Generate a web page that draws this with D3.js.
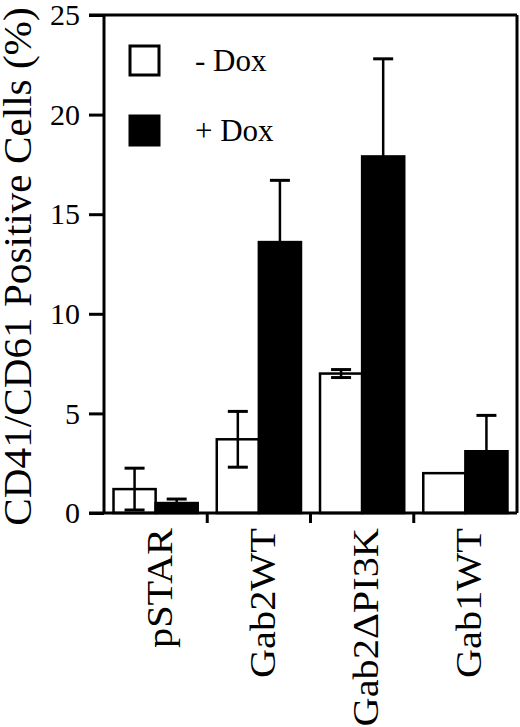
<!DOCTYPE html>
<html><head><meta charset="utf-8"><script src="https://cdn.jsdelivr.net/npm/d3@7/dist/d3.min.js"></script></head>
<body style="margin:0">
<svg id="chart" width="520" height="727"></svg>
<script>
// ---- data ----
const categories = ["pSTAR", "Gab2WT", "Gab2\u0394PI3K", "Gab1WT"];
const seriesNames = ["- Dox", "+ Dox"];
const minusDox = [1.2, 3.7, 7.0, 2.0];
const minusDoxErr = [1.05, 1.4, 0.2, 0];
const plusDox = [0.5, 13.6, 17.9, 3.1];
const plusDoxErr = [0.2, 3.1, 4.9, 1.8];
const yTicks = [0, 5, 10, 15, 20, 25];
const yLabel = "CD41/CD61 Positive Cells (%)";

// ---- layout ----
const W = 520, H = 727;
const m = { left: 104, right: 3, top: 15, bottom: 214 };
const SERIF = "Liberation Serif";
const svg = d3.select("#chart").style("font-family", `'${SERIF}'`);

const x = d3.scaleBand().domain(categories).range([m.left, W - m.right]).padding(0);
const xs = d3.scaleBand().domain(seriesNames).range([0, x.bandwidth()])
  .paddingInner(0).paddingOuter(0.226);
const y = d3.scaleLinear().domain([0, 25]).range([H - m.bottom, m.top]);

const fills = { "- Dox": "#fff", "+ Dox": "#000" };
const vals = { "- Dox": minusDox, "+ Dox": plusDox };
const errs = { "- Dox": minusDoxErr, "+ Dox": plusDoxErr };

const rows = [];
seriesNames.forEach(s => categories.forEach((c, i) => {
  rows.push({ s, c, v: vals[s][i], e: errs[s][i] });
}));

// bars
svg.append("g").selectAll("rect").data(rows).join("rect")
  .attr("x", d => x(d.c) + xs(d.s))
  .attr("y", d => y(d.v))
  .attr("width", xs.bandwidth())
  .attr("height", d => y(0) - y(d.v))
  .attr("fill", d => fills[d.s])
  .attr("stroke", "#000")
  .attr("stroke-width", 2.5);

// error bars
const eg = svg.append("g").attr("stroke", "#000").attr("fill", "none");
rows.filter(d => d.e > 0).forEach(d => {
  const cx = x(d.c) + xs(d.s) + xs.bandwidth() / 2;
  const capW = 10;
  eg.append("line").attr("x1", cx).attr("x2", cx)
    .attr("y1", y(d.v + d.e)).attr("y2", y(Math.max(0, d.v - d.e)))
    .attr("stroke-width", 2.5);
  [d.v + d.e, Math.max(0, d.v - d.e)].forEach(v => {
    eg.append("line").attr("x1", cx - capW).attr("x2", cx + capW)
      .attr("y1", y(v)).attr("y2", y(v)).attr("stroke-width", 3);
  });
});

// y axis ticks and labels
const yAxis = d3.axisLeft(y).tickValues(yTicks).tickSize(15).tickPadding(9).tickFormat(d3.format("d"));
const ga = svg.append("g").attr("transform", `translate(${m.left},0)`).call(yAxis);
ga.select(".domain").remove();
ga.attr("font-family", null).attr("font-size", 30);
ga.selectAll(".tick line").attr("stroke", "#000").attr("stroke-width", 3);
ga.selectAll(".tick text").attr("fill", "#000");

// frame
const fr = svg.append("g").attr("stroke", "#000").attr("stroke-width", 3).attr("fill", "none");
fr.append("line").attr("x1", m.left).attr("x2", m.left).attr("y1", y(25)).attr("y2", y(0));
fr.append("line").attr("x1", W - m.right).attr("x2", W - m.right).attr("y1", y(25)).attr("y2", y(0));
fr.append("line").attr("x1", m.left - 15).attr("x2", W - m.right).attr("y1", y(25)).attr("y2", y(25));
fr.append("line").attr("x1", m.left - 15).attr("x2", W - m.right).attr("y1", y(0)).attr("y2", y(0));

// category boundary ticks
categories.slice(1).forEach(c => {
  fr.append("line").attr("x1", x(c)).attr("x2", x(c)).attr("y1", y(0)).attr("y2", y(0) + 10);
});

// category labels
svg.append("g").selectAll("text").data(categories).join("text")
  .attr("transform", d => `translate(${x(d) + x.bandwidth() / 2 + 16},${y(0) + 15}) rotate(-90) scale(1.12,1)`)
  .attr("text-anchor", "end")
  .attr("font-size", 36)
  .text(d => d);

// y label
svg.append("text")
  .attr("transform", `translate(31,${(y(0) + 15 + 5) / 2}) rotate(-90) scale(1.03,1)`)
  .attr("text-anchor", "middle")
  .attr("font-size", 40)
  .text(yLabel);

// legend
const lg = svg.append("g");
seriesNames.forEach((s, i) => {
  const ly = 46 + i * 70;
  lg.append("rect").attr("x", 130).attr("y", ly).attr("width", 29).attr("height", 29)
    .attr("fill", fills[s]).attr("stroke", "#000").attr("stroke-width", 3);
  lg.append("text").attr("x", 195).attr("y", ly + 25)
    .attr("font-size", 31)
    .text(s);
});
</script>
</body>
</html>
